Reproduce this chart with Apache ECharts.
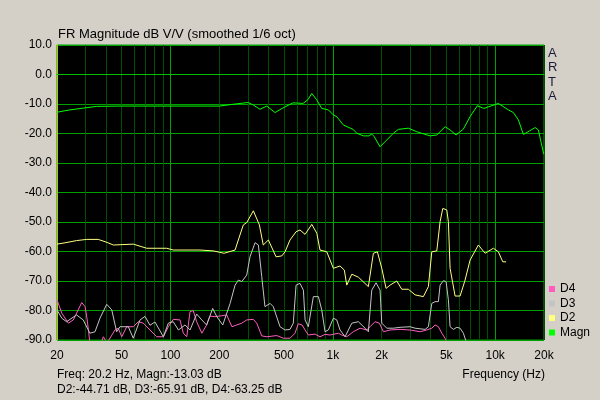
<!DOCTYPE html>
<html>
<head>
<meta charset="utf-8">
<script src="https://cdn.jsdelivr.net/npm/echarts@6/dist/echarts.min.js"></script>
<style>
html,body{margin:0;padding:0;background:#d4d0c8;}
#c{width:600px;height:400px;}
</style>
</head>
<body>
<div id="c"></div>
<script>
// ---- data ----
const magnHz = [20,21.8,24,29,35.1,48.9,100,200,243,300,323,356,392,441,494,569,656,704,742,796,855,939,1008,1058,1161,1333,1405,1542,1673,1738,1796,1955,2150,2361,2535,2921,3291,3974,4371,4916,5278,5746,6374,7009,7768,8531,10470,12070,12960,13910,14600,14935,16193,17633,18474,19190,19930];
const magnDb = [-12.8,-12.4,-12.0,-11.4,-10.8,-10.7,-10.7,-10.7,-10.1,-9.5,-10.3,-11.8,-10.7,-12.9,-11.3,-9.6,-9.8,-8.5,-6.4,-8.6,-11.5,-12.0,-13.7,-14.3,-17.1,-18.6,-19.9,-20.8,-20.8,-20.2,-21.0,-24.5,-22.2,-19.9,-18.6,-18.2,-19.4,-20.8,-20.5,-17.7,-18.8,-20.5,-18.5,-14.3,-10.6,-11.5,-9.8,-12.0,-12.9,-15.4,-18.8,-20.3,-19.2,-18.0,-18.8,-23,-27];

const d2Hz = [20,22.7,26.4,30.5,35.9,40.1,44.5,59,71.4,94.8,104,152,184,214,250,268,281,295,324,353,373,401,447,485,508,545,594,628,675,742,797,834,918,1008,1108,1178,1219,1309,1437,1656,1778,1882,2003,2129,2253,2477,2660,2921,3212,3613,3880,4071,4371,4580,4759,5037,5152,5278,5666,6083,6529,7009,7885,8671,9754,10470,11145,11682];
const d2Db = [-57.5,-57.0,-56.3,-55.9,-55.9,-56.8,-57.8,-57.5,-58.9,-58.9,-59.5,-59.5,-59.8,-60.6,-59.5,-54.4,-51.0,-50.2,-46.2,-51.0,-57.8,-56.1,-61.8,-61.5,-60.1,-56.1,-53.3,-52.7,-54.2,-50.8,-53.8,-59.5,-60.1,-65.7,-64.9,-66.3,-71.4,-67.7,-68.7,-71.9,-60.6,-60.1,-65.7,-72.5,-71.4,-70.0,-72.8,-72.8,-74.7,-75.3,-71.9,-60.1,-59.8,-49.9,-45.4,-45.9,-49.9,-65.7,-75.1,-75.1,-69.7,-62.9,-57.8,-60.6,-58.9,-60.1,-63.5,-63.5];

const d3Hz = [20,21.4,22.9,26.4,29,31.9,34.3,36.8,40.5,43.5,46.6,48.9,55,59,64.9,69.7,74.8,80.3,90.4,97,104,112,123,132,145,156,167,182,193,210,233,250,262,275,295,309,332,348,365,382,411,430,473,508,545,571,594,628,659,675,707,759,815,855,896,939,1008,1058,1108,1190,1309,1437,1580,1656,1738,1847,1955,2003,2150,2361,2596,2992,3212,3702,3880,4071,4266,4470,4580,4800,4987,5152,5278,5531,5803,6083,6374,6622];
const d3Db = [-79.8,-82.6,-83.8,-81.5,-83.2,-87.7,-87.2,-82.6,-77.9,-79.8,-87.2,-85.5,-85.5,-89.4,-83.2,-82.0,-85.0,-83.9,-88.9,-84.3,-83.8,-86.6,-84.9,-86.6,-81.2,-83.2,-84.9,-79.3,-82.1,-84.9,-77.6,-71.4,-69.7,-70.2,-68.0,-61.8,-57.0,-57.8,-68.5,-78.7,-77.6,-78.7,-85.5,-86.6,-86.4,-84.3,-71.4,-70.8,-73.1,-83.2,-85.5,-75.3,-75.3,-79.8,-87.2,-86.6,-82.6,-83.2,-86.6,-88.9,-84.3,-83.8,-86.0,-87.2,-73.1,-70.6,-73.1,-84.3,-86.0,-86.0,-85.7,-85.5,-86.0,-86.4,-85.5,-77.6,-77.0,-77.0,-71.4,-69.9,-70.2,-76.4,-85.5,-86.4,-85.7,-86.0,-87.7,-90.5];

const d4Hz = [20,21.4,23.5,25.2,28.4,29.8,30.7,31.9,36.8,38.6,40.7,45.5,47.7,50.1,53.8,59,63.4,68,74.8,82.3,90.4,97,104,114.5,120,126,132,138,145,156,167,175,188,200,222,239,256,275,295,324,340,365,392,452,496,545,585,613,647,675,707,777,834,896,962,1082,1136,1219,1338,1472,1619,1696,1821,1936,2049,2253,2596,2992,3448,3793,4071,4266,4470,4692,4916,5058];
const d4Db = [-76.4,-80.9,-84.3,-83.2,-77.3,-78.7,-83.2,-91,-92,-88.9,-91,-86.6,-86.0,-88.9,-85.5,-85.5,-83.8,-84.3,-86.6,-88.9,-88.9,-85.5,-83.0,-83.2,-87.7,-88.9,-80.4,-80.0,-83.8,-87.7,-84.9,-81.9,-82.1,-81.9,-81.5,-85.5,-84.9,-84.3,-83.2,-83.0,-84.3,-88.6,-88.9,-88.5,-89.4,-89.4,-87.7,-84.5,-84.9,-86.6,-88.3,-88.0,-88.9,-88.1,-88.3,-87.7,-88.3,-88.9,-87.2,-86.0,-86.6,-85.5,-83.8,-84.3,-87.2,-86.6,-86.4,-86.6,-87.2,-86.6,-86.0,-84.9,-85.5,-87.7,-89.4,-91];

const gridFreqs = [20,30,40,50,60,70,80,90,100,200,300,400,500,600,700,800,900,1000,2000,3000,4000,5000,6000,7000,8000,9000,10000,20000];
const majorFreqs = [100,1000,10000];
const labelFreqs = [20,50,100,200,500,1000,2000,5000,10000,20000];
const yTicks = {min:-90, max:10, step:10};

const seriesNames = ['D4','D3','D2','Magn'];
const seriesColors = {D4:'#ff5cc0', D3:'#c4c4c4', D2:'#ffff80', Magn:'#00ff00'};

// ---- build ----
function pairs(xs, ys){ return xs.map((x,i)=>[x, ys[i]]); }
const dataMap = {
  D4: pairs(d4Hz, d4Db),
  D3: pairs(d3Hz, d3Db),
  D2: pairs(d2Hz, d2Db),
  Magn: pairs(magnHz, magnDb)
};
const FONT = 'Liberation Sans';
const fmtHz = v => { const r = Math.round(v); return r >= 1000 ? (r/1000)+'k' : String(r); };

const chart = echarts.init(document.getElementById('c'), null, {renderer:'canvas'});
chart.setOption({
  animation: false,
  backgroundColor: '#d4d0c8',
  textStyle: {fontFamily: FONT},
  title: [
    {text:'FR Magnitude dB V/V (smoothed 1/6 oct)', left:58, top:28, padding:0,
     textStyle:{fontFamily:FONT, fontSize:13, fontWeight:'normal', color:'#000'}},
    {text:'A\nR\nT\nA', left:548, top:46, padding:0,
     textStyle:{fontFamily:FONT, fontSize:13, fontWeight:'normal', color:'#1a1a3a', lineHeight:14.5}},
    {text:'Freq: 20.2 Hz, Magn:-13.03 dB', left:57, top:369, padding:0,
     textStyle:{fontFamily:FONT, fontSize:12, fontWeight:'normal', color:'#000'}},
    {text:'D2:-44.71 dB, D3:-65.91 dB, D4:-63.25 dB', left:57, top:384, padding:0,
     textStyle:{fontFamily:FONT, fontSize:12, fontWeight:'normal', color:'#000'}},
    {text:'Frequency (Hz)', right:55, top:369, padding:0,
     textStyle:{fontFamily:FONT, fontSize:12, fontWeight:'normal', color:'#000'}}
  ],
  legend: {
    data: seriesNames,
    orient: 'vertical',
    left: 549, top: 283,
    icon: 'rect', itemWidth: 6, itemHeight: 6, itemGap: 2.5,
    padding: 0,
    textStyle: {fontFamily:FONT, fontSize:12, color:'#000', padding:[0,0,0,0]},
    selectedMode: false
  },
  grid: {left:57, top:45, width:487, height:295, show:true, backgroundColor:'#000',
         borderColor:'#00a000', borderWidth:1, containLabel:false},
  xAxis: [
    {type:'log', logBase:10, min:20, max:20000,
     axisLine:{show:true, lineStyle:{color:'#00c000', width:1}},
     axisTick:{show:false, customValues: gridFreqs},
     axisLabel:{customValues: labelFreqs, formatter: fmtHz, color:'#000', fontSize:12, fontFamily:FONT, margin:10, showMinLabel:true, showMaxLabel:true, hideOverlap:false},
     splitLine:{show:true, lineStyle:{color:'#004c00', width:1}},
     minorTick:{show:false}, minorSplitLine:{show:false}},
    {type:'log', logBase:10, min:20, max:20000, position:'bottom',
     axisLine:{show:false}, axisLabel:{show:false},
     axisTick:{show:false, customValues: majorFreqs},
     splitLine:{show:true, lineStyle:{color:'#00a000', width:1}}}
  ],
  yAxis: {type:'value', min:yTicks.min, max:yTicks.max, interval:yTicks.step,
    axisLine:{show:true, lineStyle:{color:'#b8c400', width:1}},
    axisTick:{show:false},
    axisLabel:{formatter: v => v.toFixed(1), color:'#000', fontSize:12, fontFamily:FONT, margin:5},
    splitLine:{show:true, lineStyle:{color:'#00a000', width:1}}},
  series: seriesNames.map(n => ({
    name: n, type:'line', xAxisIndex:0, data: dataMap[n],
    showSymbol:false, symbol:'none', smooth:false, clip:true,
    color: seriesColors[n],
    itemStyle:{color: seriesColors[n]},
    lineStyle:{color: seriesColors[n], width:1},
    emphasis:{disabled:true}
  }))
});
</script>
</body>
</html>
